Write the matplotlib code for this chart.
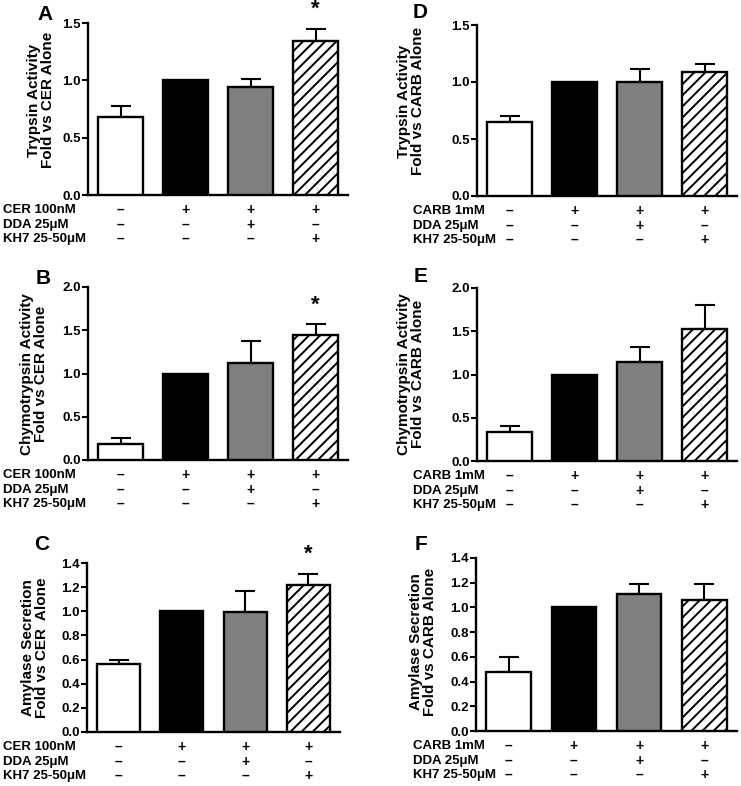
import numpy as np
import matplotlib.pyplot as plt

plt.rcParams['font.family'] = ['Liberation Sans', 'DejaVu Sans']
plt.rcParams['font.weight'] = 'bold'
plt.rcParams['hatch.linewidth'] = 1.4

W, H = 741, 786    # 图片像素

# 数据
trypsin_cer = [0.68, 1.00, 0.94, 1.34]
trypsin_cer_err = [0.10, 0.0, 0.07, 0.11]
chymo_cer = [0.18, 1.00, 1.12, 1.44]
chymo_cer_err = [0.07, 0.0, 0.25, 0.13]
amylase_cer = [0.56, 1.00, 0.99, 1.22]
amylase_cer_err = [0.04, 0.0, 0.18, 0.09]

trypsin_carb = [0.65, 1.00, 1.00, 1.09]
trypsin_carb_err = [0.05, 0.0, 0.11, 0.07]
chymo_carb = [0.33, 1.00, 1.14, 1.53]
chymo_carb_err = [0.07, 0.0, 0.18, 0.27]
amylase_carb = [0.48, 1.00, 1.11, 1.06]
amylase_carb_err = [0.12, 0.0, 0.08, 0.13]

row_labels_cer = ['CER 100nM', 'DDA 25\u03bcM', 'KH7 25-50\u03bcM']
row_labels_carb = ['CARB 1mM', 'DDA 25\u03bcM', 'KH7 25-50\u03bcM']
signs = [['\u2013', '+', '+', '+'],
         ['\u2013', '\u2013', '+', '\u2013'],
         ['\u2013', '\u2013', '\u2013', '+']]

colors = ['white', 'black', '#808080', 'white']
hatches = [None, None, None, '///']

# 每个面板: 字母, 像素框(left, top, right, bottom), 数值, 误差, ymax, 步长, y标签, 行标签, 星号, 字母位置, 标签中心, 行标签x
panels = [
    ('A', (88, 23, 348, 195), trypsin_cer, trypsin_cer_err, 1.5, 0.5,
     'Trypsin Activity\nFold vs CER Alone', row_labels_cer, [3], (45, 14), (41, 100), 3),
    ('B', (88, 287, 348, 460), chymo_cer, chymo_cer_err, 2.0, 0.5,
     'Chymotrypsin Activity\nFold vs CER Alone', row_labels_cer, [3], (43, 278), (34, 374), 3),
    ('C', (87, 563, 340, 732), amylase_cer, amylase_cer_err, 1.4, 0.2,
     'Amylase Secretion\nFold vs CER  Alone', row_labels_cer, [3], (42, 545), (35, 648), 3),
    ('D', (477, 25, 737, 196), trypsin_carb, trypsin_carb_err, 1.5, 0.5,
     'Trypsin Activity\nFold vs CARB Alone', row_labels_carb, [], (420, 13), (411, 101), 413),
    ('E', (477, 288, 737, 461), chymo_carb, chymo_carb_err, 2.0, 0.5,
     'Chymotrypsin Activity\nFold vs CARB Alone', row_labels_carb, [], (421, 277), (411, 374), 413),
    ('F', (476, 558, 737, 731), amylase_carb, amylase_carb_err, 1.4, 0.2,
     'Amylase Secretion\nFold vs CARB Alone', row_labels_carb, [], (421, 545), (423, 642), 413),
]

fig = plt.figure(figsize=(W / 100, H / 100), dpi=100)
x = np.arange(4)

for (letter, box, vals, errs, ymax, step, ylab, rows, stars, lpos, ypos, rowx) in panels:
    l, t, r, b = box
    ax = fig.add_axes([l / W, 1 - b / H, (r - l) / W, (b - t) / H])
    ax.bar(x, vals, width=0.68, color=colors, edgecolor='black', linewidth=1.7,
           hatch=hatches, zorder=3)
    for i in range(4):
        if errs[i] > 0:
            ax.errorbar(x[i], vals[i], yerr=[[0], [errs[i]]], fmt='none', ecolor='black',
                        elinewidth=1.5, capsize=7.5, capthick=1.5, zorder=2, clip_on=False)
    for i in stars:
        ax.annotate('*', xy=(x[i], vals[i] + errs[i]), xytext=(0, 14), textcoords='offset points',
                    ha='center', va='center', fontsize=16, fontweight='bold', annotation_clip=False)

    ax.set_xlim(-0.5, 3.5)
    ax.set_ylim(0, ymax)
    ticks = np.arange(0, ymax + step / 2, step)
    ax.set_yticks(ticks)
    ax.set_yticklabels(['%.1f' % v for v in ticks])
    ax.set_xticks([])
    ax.tick_params(axis='y', length=4, width=1.5, pad=1, labelsize=9.5)
    for s in ['top', 'right']:
        ax.spines[s].set_visible(False)
    for s in ['left', 'bottom']:
        ax.spines[s].set_linewidth(1.7)

    # 条件表
    offs = [15, 30, 44]
    for k in range(3):
        fig.text(rowx / W, 1 - (b + offs[k]) / H, rows[k], ha='left', va='center', fontsize=9.5)
        for i in range(4):
            ax.annotate(signs[k][i], xy=(x[i], 0), xycoords=ax.get_xaxis_transform(),
                        xytext=(0, -offs[k] * 0.72), textcoords='offset points',
                        ha='center', va='center', fontsize=10, annotation_clip=False)

    fig.text(ypos[0] / W, 1 - ypos[1] / H, ylab, rotation=90, ha='center', va='center',
             multialignment='center', fontsize=11, linespacing=1.05)
    fig.text(lpos[0] / W, 1 - lpos[1] / H, letter, ha='center', va='center', fontsize=15,
             fontweight='bold')

fig.savefig('out.png', dpi=100)
